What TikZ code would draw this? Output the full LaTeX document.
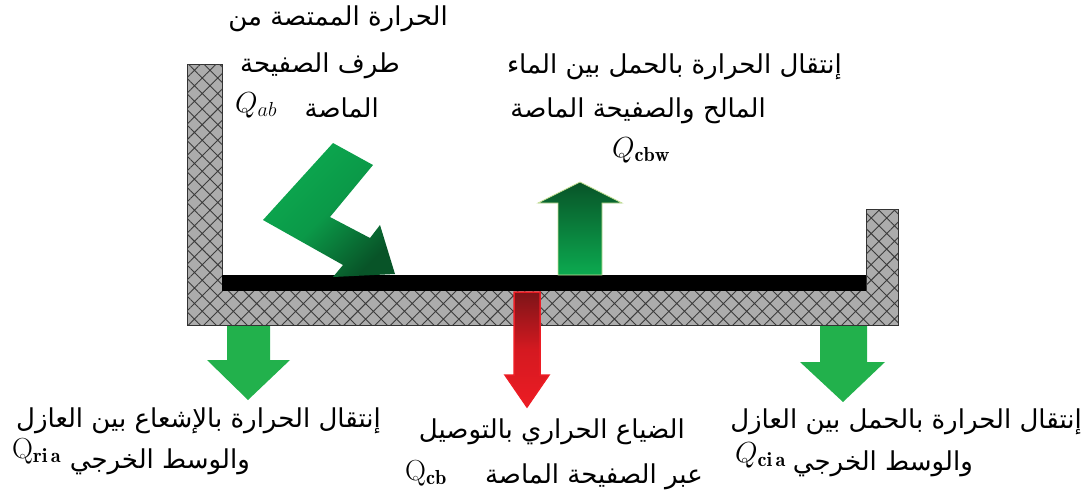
\RequirePackage{fix-cm}
\documentclass[tikz,border=0pt]{standalone}
\usepackage{fontspec}
\newfontfamily\arabicfont[Script=Arabic]{DejaVu Sans}
\TeXXeTstate=1
\usetikzlibrary{patterns.meta}

\definecolor{insgray}{RGB}{172,172,172}
\definecolor{hatchgray}{RGB}{60,60,60}
\definecolor{litegreen}{RGB}{12,170,80}
\definecolor{darkgreen}{RGB}{8,84,40}
\definecolor{flatgreen}{RGB}{34,177,76}
\definecolor{rimgreen}{RGB}{200,225,150}
\definecolor{hotred}{RGB}{236,28,36}
\definecolor{deepred}{RGB}{125,20,24}

\tikzset{
  insulator/.style={fill=insgray, draw=black!80, line width=0.8pt,
    postaction={pattern={Hatch[angle=45,distance=11pt,line width=0.9pt]},
                pattern color=hatchgray}},
  absorber/.style={fill=black},
  flux/.style={fill=flatgreen},
  arlabel/.style={font=\arabicfont\fontsize{26}{30}\selectfont, inner sep=0pt},
  qlabel/.style={font=\fontsize{29}{33}\selectfont, inner sep=0pt}
}

\begin{document}
\begin{tikzpicture}[x=1pt,y=-1pt]
  \useasboundingbox (0,0) rectangle (1087,498);

  % insulated box and absorber plate
  \draw[insulator] (187,64) -- (222,64) -- (222,290) -- (866,290) -- (866,209)
    -- (898,209) -- (898,325) -- (187,325) -- cycle;
  \fill[absorber] (222,275) rectangle (866,291);

  % absorbed radiation (broken arrow)
  \shade[top color=litegreen, bottom color=darkgreen, middle color=litegreen!80!darkgreen,
         shading angle=45]
    (333,143) -- (373,165) -- (330,217) -- (370,238) -- (380,225) -- (395,274)
    -- (333,277) -- (343,265) -- (263,220) -- cycle;

  % convection plate -> water
  \shade[top color=darkgreen, bottom color=litegreen, draw=rimgreen, line width=0.8pt]
    (558,275) -- (558,203) -- (538,203) -- (580,182) -- (622,203) -- (602,203)
    -- (602,275) -- cycle;

  % conduction loss through the plate
  \shade[top color=deepred, bottom color=hotred, middle color=hotred!90!black,
         draw=hotred, line width=1.5pt]
    (514,292) -- (540,292) -- (540,375) -- (549,375) -- (527,407) -- (505,375)
    -- (514,375) -- cycle;

  % losses from the insulation
  \fill[flux] (227,326) -- (270,326) -- (270,360) -- (290,360) -- (248,400)
    -- (207,360) -- (227,360) -- cycle;
  \fill[flux] (820,326) -- (867,326) -- (867,362) -- (885,362) -- (843,402)
    -- (800,362) -- (820,362) -- cycle;

  % labels, top
  \node[arlabel, anchor=base east] (abs1) at (448,25) {\beginR الحرارة الممتصة من\endR};
  \node[arlabel, anchor=base east] (abs2) at (400,72) {\beginR طرف الصفيحة\endR};
  \node[arlabel, anchor=base east] (abs3) at (379,117) {\beginR الماصة\endR};
  \node[qlabel, anchor=base west] (qab) at (235,112) {$Q_{\scriptstyle ab}$};

  \node[arlabel, anchor=base east] (cbw1) at (842,73) {\beginR إنتقال الحرارة بالحمل بين الماء\endR};
  \node[arlabel, anchor=base east] (cbw2) at (766,117) {\beginR المالح والصفيحة الماصة\endR};
  \node[qlabel, anchor=base west] (qcbw) at (612,157) {$Q_{\mathbf{cbw}}$};

  % labels, bottom
  \node[arlabel, anchor=base east] (ria1) at (381,427) {\beginR إنتقال الحرارة بالإشعاع بين العازل\endR};
  \node[arlabel, anchor=base east] (ria2) at (250,468) {\beginR والوسط الخرجي\endR};
  \node[qlabel, anchor=base west] (qria) at (12,458) {$\mathrm{Q}_{\mathbf{ri\,a}}$};

  \node[arlabel, anchor=base east] (cb1) at (685,438) {\beginR الضياع الحراري بالتوصيل\endR};
  \node[arlabel, anchor=base east] (cb2) at (703,483) {\beginR عبر الصفيحة الماصة\endR};
  \node[qlabel, anchor=base west] (qcb) at (405,480) {$\mathrm{Q}_{\mathbf{cb}}$};

  \node[arlabel, anchor=base east] (cia1) at (1082,428) {\beginR إنتقال الحرارة بالحمل بين العازل\endR};
  \node[arlabel, anchor=base east] (cia2) at (973,470) {\beginR والوسط الخرجي\endR};
  \node[qlabel, anchor=base west] (qcia) at (735,462) {$Q_{\mathbf{ci\,a}}$};
\end{tikzpicture}
\end{document}
